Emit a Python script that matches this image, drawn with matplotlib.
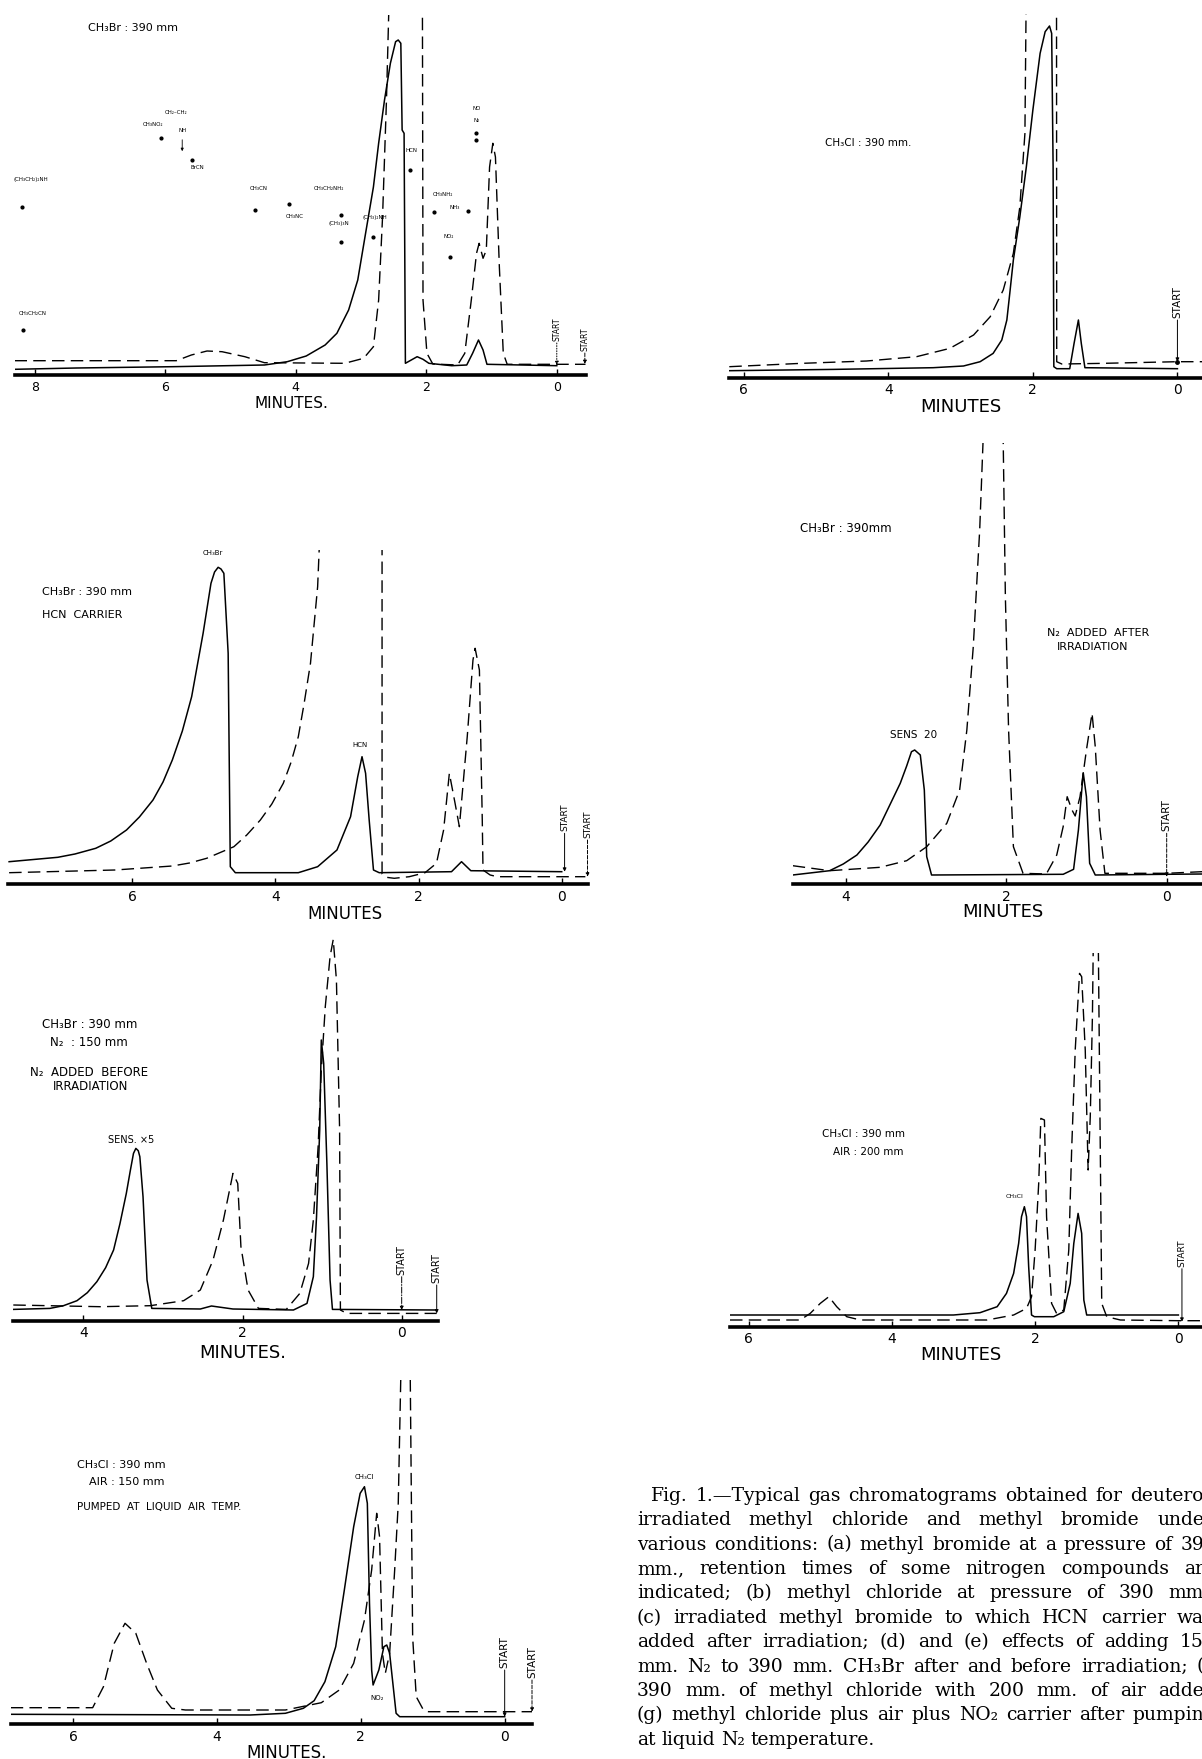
import matplotlib
matplotlib.use("Agg")
import matplotlib.pyplot as plt

W, H = 1202, 1759

# ---------------- data (minutes, detector response) -------------
# (a) CH3Br 390 mm
A_SOLID_T = [8.31, 7.36, 5.89, 4.48, 4.13, 3.84, 3.55, 3.37, 3.19, 3.05, 2.93, 2.81, 2.73, 2.64,
             2.55, 2.47, 2.43, 2.39, 2.37, 2.34, 2.32, 2.23, 2.14, 2.05, 1.96, 1.61, 1.38, 1.29,
             1.20, 1.13, 1.07, 0.0]
A_SOLID_H = [5.7, 7.0, 8.3, 10, 13.3, 19, 30, 41.7, 65, 95, 141.7, 188, 231.7, 275, 311.7, 333.3,
             335, 331.7, 245, 241.7, 11.7, 15, 18.3, 15.7, 11.7, 9.3, 10, 21.7, 35, 25, 10.7, 9.3]
A_DASH_T = [8.31, 5.83, 5.60, 5.36, 5.13, 4.78, 4.48, 3.25, 2.96, 2.81, 2.73, 2.67, 2.61, 2.56,
            2.06, 2.05, 1.99, 1.90, 1.52, 1.41, 1.31, 1.23, 1.19, 1.13, 1.08, 1.03, 0.98, 0.94,
            0.88, 0.82, 0.76, -0.44]
A_DASH_H = [14.3, 14.3, 20, 24, 23.3, 18.3, 12.3, 11.7, 16.7, 28.3, 75, 158, 275, 400, 400, 75,
            21.7, 11, 10, 21.7, 75, 121.7, 131.7, 116.7, 125, 208, 231.7, 218, 108, 21.7, 10.7, 10.7]

# (b) CH3Cl 390 mm
B_SOLID_T = [6.20, 4.76, 3.38, 2.96, 2.73, 2.55, 2.43, 2.36, 2.32, 2.27, 2.18, 2.09, 2.00, 1.90,
             1.83, 1.77, 1.74, 1.72, 1.71, 1.67, 1.49, 1.43, 1.37, 1.33, 1.28, 0.0]
B_SOLID_H = [7, 8.3, 10, 11.7, 16, 24.3, 37.7, 57.7, 84, 117.7, 161, 211, 267.7, 324.3, 346,
             351.7, 344.3, 211, 11, 9, 9, 34.3, 57.7, 34.3, 10, 9]
B_DASH_T = [6.20, 5.22, 4.30, 3.61, 3.15, 2.82, 2.59, 2.41, 2.27, 2.18, 2.11, 2.09, 1.673, 1.67,
            1.60, 1.07, 0.0, -0.34]
B_DASH_H = [11, 14.3, 16.7, 21, 29.3, 42.7, 61, 87.7, 124.3, 171, 244.3, 400, 400, 16, 13.7,
            14.3, 16, 16]

# (c) CH3Br + HCN carrier
C_SOLID_T = [7.72, 7.04, 6.8, 6.51, 6.3, 6.08, 5.9, 5.71, 5.57, 5.44, 5.3, 5.17, 5.01, 4.90, 4.85,
             4.80, 4.76, 4.72, 4.66, 4.63, 4.56, 3.68, 3.41, 3.14, 2.95, 2.85, 2.79, 2.74, 2.69,
             2.63, 2.55, 1.54, 1.40, 1.27, 0.0]
C_SOLID_H = [22.3, 26.7, 30, 35.7, 43, 54, 67, 84, 102, 124, 153, 187.3, 250.7, 300.7, 312, 316.7,
             315, 310.7, 230.7, 17.3, 11.3, 11.3, 17.3, 34, 67.3, 107.3, 127.3, 110.7, 64, 14,
             11.3, 12.3, 22.3, 13.3, 12.3]
C_DASH_T = [7.72, 6.24, 5.44, 5.2, 4.96, 4.58, 4.4, 4.21, 4.05, 3.89, 3.78, 3.68, 3.6, 3.51, 3.41,
            3.35, 2.51, 2.51, 2.45, 2.34, 2.13, 1.91, 1.75, 1.65, 1.57, 1.49, 1.43, 1.32, 1.24,
            1.21, 1.15, 1.11, 1.10, 1.00, 0.90, -0.33]
C_DASH_H = [11.3, 14, 18, 21, 25.7, 37.3, 49, 64, 80, 100.7, 122, 147.3, 180, 220.7, 297.3, 400,
            400, 10, 6.7, 5.7, 7.3, 11.3, 20.7, 54, 110.7, 80.7, 57.3, 147.3, 224, 235.7, 214, 64,
            14, 9, 7.3, 7.3]

# (d) N2 added before irradiation
D_SOLID_T = [4.88, 4.42, 4.25, 4.08, 3.95, 3.83, 3.72, 3.62, 3.54, 3.46, 3.41, 3.37, 3.34, 3.31,
             3.29, 3.25, 3.20, 3.14, 2.53, 2.39, 2.12, 1.36, 1.19, 1.11, 1.07, 1.03, 1.01, 0.98,
             0.94, 0.90, 0.87, -0.44]
D_SOLID_H = [11.3, 12.3, 15, 20, 28, 39, 53, 70.7, 97, 127.3, 150, 167.3, 172.3, 170, 164, 124,
             40.7, 12.3, 11.7, 14.7, 11.7, 10.7, 17.3, 44, 104, 190.7, 280.7, 257.3, 157.3, 40.7,
             11.3, 10.7]
D_DASH_T = [4.88, 3.79, 3.16, 2.74, 2.53, 2.37, 2.24, 2.12, 2.06, 2.02, 1.93, 1.80, 1.45, 1.28,
            1.17, 1.11, 1.05, 1.01, 0.96, 0.90, 0.86, 0.82, 0.78, 0.77, 0.69, -0.44]
D_DASH_H = [15.7, 14, 15, 20, 30.7, 60.7, 100.7, 147.3, 137.3, 74, 30.7, 12.3, 11.3, 27.3, 57.3,
            100.7, 174, 250.7, 314, 364, 381.3, 340.7, 190.7, 10.7, 7.3, 7.3]

# (e) N2 added after irradiation
E_SOLID_T = [4.66, 4.20, 4.03, 3.86, 3.72, 3.57, 3.45, 3.32, 3.24, 3.18, 3.14, 3.07, 3.02, 2.99,
             2.93, 1.29, 1.16, 1.10, 1.04, 1.00, 0.96, 0.89, 0.0, -0.44]
E_SOLID_H = [9, 13.3, 20, 29, 42, 59, 79, 100.7, 118, 132.3, 134, 129, 94, 27.3, 9, 9.7, 14.7, 54,
             111.3, 87.3, 20.7, 9, 9.7, 10]
E_DASH_T = [4.66, 4.20, 3.57, 3.24, 2.99, 2.74, 2.58, 2.49, 2.41, 2.33, 2.28, 2.04, 2.01, 1.97,
            1.91, 1.79, 1.50, 1.37, 1.29, 1.24, 1.18, 1.14, 1.08, 1.00, 0.93, 0.89, 0.83, 0.77,
            0.0, -0.44]
E_DASH_H = [18.3, 13.3, 16.7, 23.3, 37.3, 60.7, 94, 154, 237.3, 354, 460, 460, 287.3, 154, 37.3,
            10.7, 10, 29, 57.3, 87.3, 74, 68, 87.3, 134, 170.7, 137.3, 54, 10.7, 10.7, 12.3]

# (f) CH3Cl + 200 mm air
F_SOLID_T = [6.26, 3.14, 2.77, 2.53, 2.40, 2.30, 2.23, 2.19, 2.15, 2.12, 2.09, 2.05, 2.01, 1.74,
             1.60, 1.51, 1.46, 1.40, 1.35, 1.32, 1.28, 0.0]
F_SOLID_H = [11.7, 11.7, 14, 20, 33.3, 53.3, 83.3, 110, 120, 110, 60, 11.7, 10, 10, 15, 43.3,
             83.3, 113.3, 93.3, 26.7, 11.7, 11.7]
F_DASH_T = [6.26, 5.28, 5.14, 5.00, 4.88, 4.77, 4.63, 4.44, 2.67, 2.30, 2.12, 2.05, 2.00, 1.95,
            1.92, 1.87, 1.84, 1.77, 1.70, 1.60, 1.53, 1.49, 1.44, 1.38, 1.35, 1.30, 1.26, 1.23,
            1.20, 1.185, 1.12, 1.09, 1.07, 1.00, 0.81, 0.0, -0.33]
F_DASH_H = [6.7, 6.7, 13.3, 23.3, 30, 20, 10, 6.7, 6.7, 11.7, 18.3, 30, 76.7, 143.3, 208.3, 206.7,
            110, 23.3, 13.3, 16.7, 76.7, 176.7, 276.7, 353.3, 350, 276.7, 156.7, 210, 310, 400,
            400, 176.7, 23.3, 10, 6.7, 6, 6]

# (g) CH3Cl + air + NO2 carrier, pumped at liquid air temp.
G_SOLID_T = [6.87, 3.54, 3.05, 2.80, 2.65, 2.50, 2.35, 2.23, 2.10, 2.01, 1.95, 1.91, 1.88, 1.85,
             1.83, 1.75, 1.68, 1.64, 1.60, 1.55, 1.51, 1.46, 0.0]
G_SOLID_H = [9.7, 9, 10.7, 15.7, 23.3, 42.3, 77.3, 134, 197.3, 230.7, 237.3, 220.7, 120.7, 54, 39,
             54, 77.3, 79, 70.7, 37.3, 10.7, 7.3, 7.3]
G_DASH_T = [6.87, 5.73, 5.58, 5.43, 5.28, 5.13, 4.98, 4.83, 4.63, 4.44, 3.05, 2.55, 2.30, 2.10,
            1.95, 1.85, 1.78, 1.74, 1.70, 1.66, 1.60, 1.53, 1.48, 1.43, 1.32, 1.28, 1.23, 1.13,
            1.06, -0.38]
G_DASH_H = [16.3, 16.3, 37.3, 80.7, 100.7, 90.7, 60.7, 34, 15.7, 14, 14, 21.3, 34, 60.7, 104, 154,
            210.7, 187.3, 70.7, 50.7, 70.7, 154, 220.7, 400, 400, 87.3, 27.3, 14, 12.3, 12.3]

# retention-time markers of nitrogen compounds in (a): name, marker minutes, marker height
N_COMPOUNDS = ["(CH₃CH₂)₂NH", "CH₃CH₂CN", "CH₃NO₂", "BrCN", "CH₃CN", "CH₃NC", "CH₃CH₂NH₂",
               "(CH₃)₃N", "(CH₃)₂NH", "HCN", "CH₃NH₂", "NH₃", "NO₂", "NO", "N₂"]
N_TIMES = [8.19, 8.18, 6.06, 5.59, 4.63, 4.11, 3.31, 3.31, 2.82, 2.25, 1.88, 1.36, 1.64, 1.24, 1.24]
N_MARK_H = [167.7, 45, 237, 215, 165, 171, 160, 133.3, 138.3, 205, 162.7, 164.3, 118.3, 242, 235]
# label placement (minutes, height, alignment) for each marker
N_LABEL_POS = [(8.33, 195, "left"), (8.25, 61.7, "left"), (6.03, 250, "right"), (5.62, 207.7, "left"),
               (4.70, 186.7, "left"), (4.16, 158, "left"), (3.73, 186.7, "left"), (3.50, 151.7, "left"),
               (2.97, 157.7, "left"), (2.32, 225, "left"), (1.90, 180.7, "left"), (1.64, 167.7, "left"),
               (1.73, 138.3, "left"), (1.23, 267, "center"), (1.23, 255, "center")]

CAPTION = [
    "Fig. 1.—Typical gas chromatograms obtained for deutero",
    "irradiated methyl chloride and methyl bromide unde",
    "various conditions: (a) methyl bromide at a pressure of 39",
    "mm., retention times of some nitrogen compounds ar",
    "indicated;  (b) methyl chloride at pressure of 390 mm",
    "(c) irradiated methyl bromide to which HCN carrier wa",
    "added after irradiation;  (d) and (e) effects of adding 15",
    "mm. N₂ to 390 mm. CH₃Br after and before irradiation; (",
    "390 mm. of methyl chloride with 200 mm. of air adde",
    "(g) methyl chloride plus air plus NO₂ carrier after pumpin",
    "at liquid N₂ temperature.",
]

# ---------------- drawing --------------------------------------------------------------------
fig = plt.figure(figsize=(W / 100, H / 100), dpi=100)
fig.patch.set_facecolor("white")
DASH = (0, (9, 4.5))


def px(x, y):
    return x / W, 1 - y / H


def panel(left, right, base, xlim, top, ticks, sol, dash, minutes_at, minutes_dy, minutes_fs,
          minutes_text="MINUTES", tick_fs=10):
    ax = fig.add_axes([left / W, (H - base) / H, (right - left) / W, top / H])
    ax.patch.set_alpha(0)
    ax.set_xlim(*xlim)
    ax.set_ylim(0, top)
    for s in ax.spines.values():
        s.set_visible(False)
    ax.set_yticks([])
    ax.set_xticks(ticks)
    ax.set_xticklabels([str(t) for t in ticks])
    ax.tick_params(axis="x", direction="in", length=4, width=1, pad=4, labelsize=tick_fs)
    ax.axhline(0, color="black", lw=2.6, clip_on=False)
    ax.plot(sol[0], sol[1], color="black", lw=1.1, solid_joinstyle="round")
    ax.plot(dash[0], dash[1], color="black", lw=1.0, ls=DASH)
    ax.annotate(minutes_text, xy=(minutes_at, 0), xytext=(0, -minutes_dy * 0.72),
                textcoords="offset points", ha="center", va="center",
                fontsize=minutes_fs, annotation_clip=False)
    return ax


def start(ax, m, h_lo, h_end, ls, fs):
    ax.text(m, h_lo + 2, "START", rotation=90, ha="center", va="bottom", fontsize=fs, clip_on=False)
    ax.annotate("", xy=(m, h_end), xytext=(m, h_lo),
                arrowprops=dict(arrowstyle="-|>", lw=0.7, ls=ls, color="black",
                                mutation_scale=5, shrinkA=0, shrinkB=0),
                annotation_clip=False)


def label(x, y, s, fs=7.5, ha="left"):
    fig.text(*px(x, y), s, fontsize=fs, ha=ha, va="center")


# (a)
ax_a = panel(14.5, 585.5, 375, (8.31, -0.44), 360, [8, 6, 4, 2, 0],
             (A_SOLID_T, A_SOLID_H), (A_DASH_T, A_DASH_H), 4.06, 28, 11, "MINUTES.", 9)
start(ax_a, 0.0, 32, 10, ":", 5.5)
start(ax_a, -0.43, 22, 11, "--", 5.5)
label(88, 28, "CH₃Br : 390 mm", 8)
for name, t, hm, (lt, lh, ha) in zip(N_COMPOUNDS, N_TIMES, N_MARK_H, N_LABEL_POS):
    ax_a.plot([t], [hm], "o", color="black", ms=2)
    ax_a.text(lt, lh, name, fontsize=4, ha=ha, va="center", clip_on=False)
ax_a.text(6.00, 262, "CH₂–CH₂", fontsize=4, ha="left", va="center")
ax_a.text(5.73, 244.3, "NH", fontsize=4, ha="center", va="center")
ax_a.annotate("", xy=(5.74, 221), xytext=(5.74, 238),
              arrowprops=dict(arrowstyle="-|>", lw=0.6, color="black", mutation_scale=4))

# (b)
ax_b = panel(729.3, 1202, 377.7, (6.2, -0.34), 364, [6, 4, 2, 0],
             (B_SOLID_T, B_SOLID_H), (B_DASH_T, B_DASH_H), 3.0, 29, 13)
start(ax_b, 0.0, 57.7, 16, "-", 7.5)
ax_b.plot([0.0], [16], "o", color="black", ms=2.5)
label(825, 143, "CH₃Cl : 390 mm.", 7.5)

# (c)
ax_c = panel(8.4, 587.5, 884, (7.73, -0.36), 334, [6, 4, 2, 0],
             (C_SOLID_T, C_SOLID_H), (C_DASH_T, C_DASH_H), 3.03, 30, 12)
start(ax_c, -0.04, 50.7, 12.3, "-", 6.5)
start(ax_c, -0.36, 44, 7.3, "--", 6.5)
label(42, 592, "CH₃Br : 390 mm", 8)
label(42, 615, "HCN  CARRIER", 8)
label(213, 553, "CH₃Br", 5, "center")
label(360, 745, "HCN", 5, "center")

# (d)
ax_d = panel(13.3, 438.3, 1320.7, (4.88, -0.46), 385, [4, 2, 0],
             (D_SOLID_T, D_SOLID_H), (D_DASH_T, D_DASH_H), 2.0, 32, 13, "MINUTES.")
start(ax_d, 0.0, 44, 10.7, "-.", 7)
start(ax_d, -0.44, 35.7, 7.3, "-", 7)
label(42, 1024, "CH₃Br : 390 mm", 8.5)
label(50, 1042, "N₂  : 150 mm", 8.5)
label(30, 1072, "N₂  ADDED  BEFORE", 8.5)
label(53, 1086, "IRRADIATION", 8.5)
label(108, 1140, "SENS. ×5", 7)

# (e)
ax_e = panel(792.7, 1202, 884, (4.66, -0.44), 441.3, [4, 2, 0],
             (E_SOLID_T, E_SOLID_H), (E_DASH_T, E_DASH_H), 2.04, 27.7, 13)
start(ax_e, 0.0, 50.7, 7.3, "--", 7.5)
label(800, 528, "CH₃Br : 390mm", 8.5)
label(1047, 633, "N₂  ADDED  AFTER", 8)
label(1057, 647, "IRRADIATION", 8)
label(890, 735, "SENS  20", 7.5)

# (f)
ax_f = panel(730, 1202, 1326.7, (6.26, -0.33), 373.3, [6, 4, 2, 0],
             (F_SOLID_T, F_SOLID_H), (F_DASH_T, F_DASH_H), 3.04, 28.3, 13)
start(ax_f, -0.05, 58, 5, "-", 6.5)
label(822, 1134, "CH₃Cl : 390 mm", 7.5)
label(833, 1152, "AIR : 200 mm", 7.5)
label(1014, 1197, "CH₃Cl", 4.5, "center")

# (g)
ax_g = panel(10.7, 532, 1724, (6.87, -0.38), 344, [6, 4, 2, 0],
             (G_SOLID_T, G_SOLID_H), (G_DASH_T, G_DASH_H), 3.04, 29, 12, "MINUTES.")
start(ax_g, 0.0, 54, 7.3, "-", 7.5)
start(ax_g, -0.38, 44, 12.3, "--", 7.5)
label(77, 1465, "CH₃Cl : 390 mm", 8)
label(89, 1482, "AIR : 150 mm", 8)
label(77, 1507, "PUMPED  AT  LIQUID  AIR  TEMP.", 7.5)
label(364, 1477, "CH₃Cl", 5, "center")
label(377, 1698, "NO₂", 5, "center")

# ---------------- caption, justified line by line ------------------------------------------
renderer = fig.canvas.get_renderer()
CAP_FS = 13.5
space = 0.32 * CAP_FS * 100 / 72
for i, line in enumerate(CAPTION):
    x0 = 651 if i == 0 else 637
    yb = 1500.7 + 24.4 * i
    words = line.split()
    arts = [fig.text(*px(x0, yb), w, fontsize=CAP_FS, family="DejaVu Serif", va="baseline")
            for w in words]
    widths = [a.get_window_extent(renderer).width for a in arts]
    if i < len(CAPTION) - 1:
        gap = max((1204 - x0 - sum(widths)) / (len(words) - 1), 0.55 * space)
    else:
        gap = space
    x = x0
    for a, wd in zip(arts, widths):
        a.set_x(x / W)
        x += wd + gap

fig.savefig("out.png", dpi=100)
